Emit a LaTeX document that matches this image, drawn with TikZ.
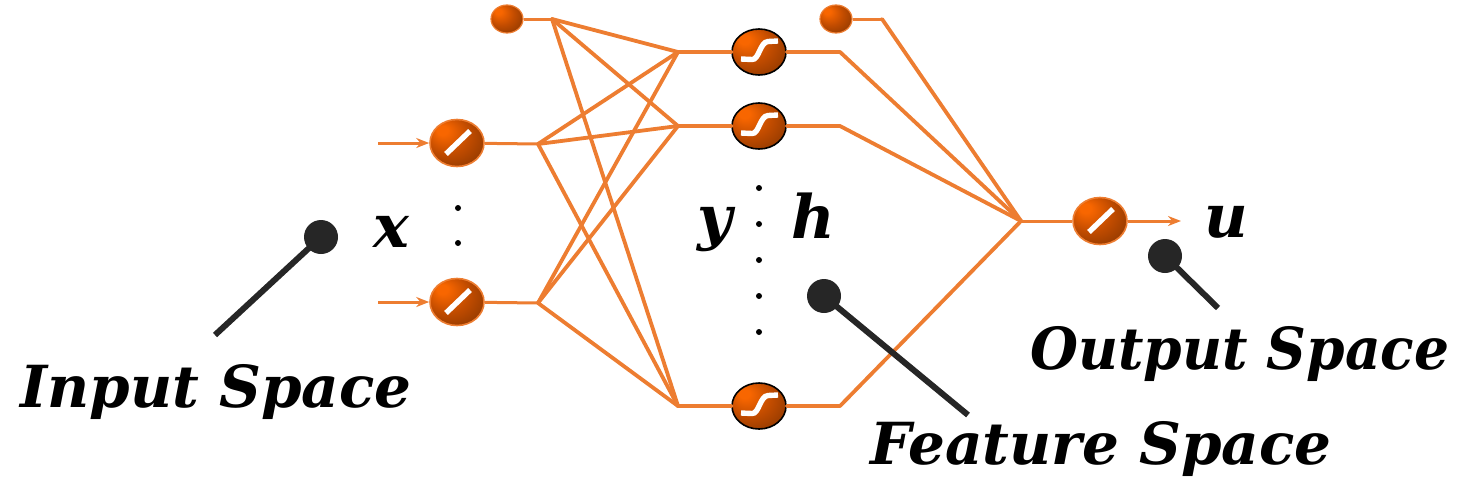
\documentclass[tikz,border=0pt]{standalone}
\usepackage{fontspec}
\usetikzlibrary{shapes.geometric,arrows.meta}
\newfontfamily\lblfont{DejaVu Serif}
\definecolor{conn}{HTML}{ED7D31}
\definecolor{orbA}{HTML}{F86600}
\definecolor{orbB}{HTML}{C24C00}
\definecolor{orbC}{HTML}{8E3800}
\definecolor{orbD}{HTML}{682800}
\definecolor{ptr}{HTML}{262626}
\pgfdeclareradialshading{orb}{\pgfpoint{-15bp}{15bp}}{color(0bp)=(orbA); color(5bp)=(orbA); color(20bp)=(orbB); color(36bp)=(orbC); color(50bp)=(orbD)}
\tikzset{
  orb/.style={ellipse, shade, shading=orb, line width=1.6, minimum width=54, minimum height=47, inner sep=0},
  linnode/.style={orb, draw=conn},
  signode/.style={orb, draw=black, minimum width=54, minimum height=46},
  biasnode/.style={orb, draw=conn, line width=1.2, minimum width=32, minimum height=28},
  fan/.style={conn, line width=3.8, line cap=round, line join=round},
  thin conn/.style={conn, line width=3},
  arr/.style={conn, line width=3, -{Stealth[length=13pt,width=10pt]}},
  icon/.style={white, line width=5.4},
  ptrdot/.style={circle, fill=ptr, minimum size=34, inner sep=0},
  ptrline/.style={ptr, line width=6},
  lbl/.style={font=\lblfont\bfseries\itshape\fontsize{58}{58}\selectfont, inner sep=0},
  var/.style={font=\lblfont\bfseries\itshape\fontsize{60}{60}\selectfont, inner sep=0},
  dotm/.style={circle, fill=black, minimum size=6, inner sep=0}
}
\begin{document}
\begin{tikzpicture}[x=1pt,y=-1pt]
\useasboundingbox (0,0) rectangle (1463,491);

% ---------- nodes ----------
\node[linnode] (in1) at (457,143) {};
\node[linnode] (in2) at (457,302) {};
\node[biasnode] (b1) at (507,19) {};
\node[signode] (h1) at (759,52) {};
\node[signode] (h2) at (759,126) {};
\node[signode] (h3) at (759,406) {};
\node[biasnode] (b2) at (836,19) {};
\node[linnode] (out) at (1100,221) {};

% ---------- coordinates ----------
\coordinate (s1) at (378,143);
\coordinate (s2) at (378,302);
\coordinate (j1) at (538,144);
\coordinate (j2) at (538,303);
\coordinate (jb1) at (552,19);
\coordinate (hj1) at (678,52);
\coordinate (hj2) at (678,126);
\coordinate (hj3) at (678,406);
\coordinate (ho1) at (840,52);
\coordinate (ho2) at (840,126);
\coordinate (ho3) at (840,406);
\coordinate (jb2) at (882,19);
\coordinate (oj) at (1021,221);
\coordinate (uend) at (1181,221);

% ---------- connectors ----------
\draw[arr] (s1) -- (in1);
\draw[arr] (s2) -- (in2);
\draw[thin conn] (in1) -- (j1);
\draw[thin conn] (in2) -- (j2);
\draw[thin conn] (b1) -- (jb1);
\foreach \a in {jb1,j1,j2}{
  \foreach \b in {hj1,hj2,hj3}{
    \draw[fan] (\a) -- (\b);
  }
}
\draw[fan] (hj1) -- (h1);
\draw[fan] (hj2) -- (h2);
\draw[fan] (hj3) -- (h3);
\draw[fan] (h1) -- (ho1) -- (oj);
\draw[fan] (h2) -- (ho2) -- (oj);
\draw[fan] (h3) -- (ho3) -- (oj);
\draw[thin conn] (b2) -- (jb2);
\draw[fan] (jb2) -- (oj);
\draw[thin conn] (oj) -- (out);
\draw[arr] (out) -- (uend);

% ---------- icons ----------
\foreach \n in {in1,in2,out}{
  \draw[icon] ([shift={(-11pt,-11pt)}]\n.center) -- ([shift={(13pt,12pt)}]\n.center);
}
\foreach \n in {h1,h2,h3}{
  \draw[icon] ([shift={(-18pt,-7pt)}]\n.center) -- ([shift={(-7pt,-7.5pt)}]\n.center)
    .. controls ([shift={(0pt,-8pt)}]\n.center) and ([shift={(1pt,10pt)}]\n.center) .. ([shift={(9pt,10.5pt)}]\n.center)
    -- ([shift={(19pt,11pt)}]\n.center);
}

% ---------- dots ----------
\node[dotm] (dx1) at (458,208) {};
\node[dotm] (dx2) at (458,243) {};
\foreach \yy [count=\i] in {188,224,260,296,332}{
  \node[dotm] (dh\i) at (759,\yy) {};
}

% ---------- variable labels ----------
\node[var, anchor=base] (xl) at (391,247) {x};
\node[var, anchor=base] (yl) at (715,238) {y};
\node[var, anchor=base] (hl) at (813,238) {h};
\node[var, anchor=base] (ul) at (1226,237) {u};

% ---------- pointers ----------
\node[ptrdot] (p1) at (321,237) {};
\coordinate (p1e) at (215,335);
\draw[ptrline] (p1.center) -- (p1e);
\node[ptrdot] (p2) at (824,296) {};
\coordinate (p2e) at (968,415);
\draw[ptrline] (p2.center) -- (p2e);
\node[ptrdot] (p3) at (1165,256) {};
\coordinate (p3e) at (1218,308);
\draw[ptrline] (p3.center) -- (p3e);

% ---------- space labels ----------
\node[lbl, anchor=base west] (inl) at (20,407) {Input Space};
\node[lbl, anchor=base west] (fel) at (870,464) {Feature Space};
\node[lbl, anchor=base west, xscale=0.95] (oul) at (1030,369) {Output Space};
\end{tikzpicture}
\end{document}
